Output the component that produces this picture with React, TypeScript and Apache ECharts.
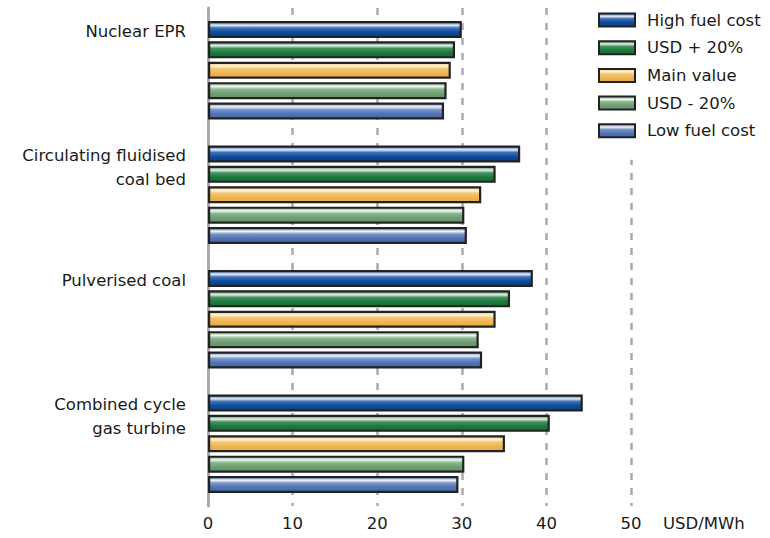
import React, { useEffect, useRef } from "react";
import * as echarts from "echarts";

const categories = [
  "Nuclear EPR",
  "Circulating fluidised\ncoal bed",
  "Pulverised coal",
  "Combined cycle\ngas turbine",
];
const seriesNames = ["High fuel cost", "USD + 20%", "Main value", "USD - 20%", "Low fuel cost"];
const highFuel = [30.0, 36.9, 38.4, 44.3];
const usdPlus20 = [29.2, 34.0, 35.7, 40.4];
const mainValue = [28.7, 32.3, 34.0, 35.1];
const usdMinus20 = [28.2, 30.3, 32.0, 30.3];
const lowFuel = [27.9, 30.6, 32.4, 29.6];
const xTicks = [0, 10, 20, 30, 40, 50];
const unitLabel = "USD/MWh";

const palettes = [
  ["#3d6fb6", "#e2ecf8", "#4071b8", "#0d4d9c", "#093f86"],
  ["#4e9262", "#e4f0e6", "#4a9061", "#1b7b3b", "#156931"],
  ["#f3c77a", "#fdf3dc", "#f4c673", "#eeb552", "#e8a944"],
  ["#8bb48e", "#eef5ee", "#8cb590", "#6e9f72", "#62936a"],
  ["#7692c6", "#eef2fa", "#7a96c9", "#5074b3", "#4367a8"],
];

function grad(p: string[]) {
  return new echarts.graphic.LinearGradient(0, 0, 0, 1, [
    { offset: 0, color: p[0] },
    { offset: 0.22, color: p[1] },
    { offset: 0.4, color: p[2] },
    { offset: 0.68, color: p[3] },
    { offset: 1, color: p[4] },
  ]);
}

const FONT = "DejaVu Sans";

export default function App() {
  const ref = useRef<HTMLDivElement>(null);
  useEffect(() => {
    if (!ref.current) return;
    const chart = echarts.init(ref.current, null, { renderer: "svg" });
    const data = [highFuel, usdPlus20, mainValue, usdMinus20, lowFuel];
    chart.setOption({
      animation: false,
      backgroundColor: "#fff",
      textStyle: { fontFamily: FONT },
      grid: { left: 208, right: 139, top: 8, bottom: 32 },
      legend: {
        orient: "vertical",
        left: 588,
        top: 1,
        padding: [10, 14, 20, 10],
        backgroundColor: "#fff",
        icon: "rect",
        itemWidth: 36,
        itemHeight: 13,
        itemGap: 9.7,
        textStyle: { fontSize: 16.5, color: "#1a1a1a", fontFamily: FONT, lineHeight: 18, padding: [0, 0, 0, 7] },
        data: seriesNames,
      },
      xAxis: {
        type: "value",
        min: 0,
        max: 50,
        interval: 10,
        axisLine: { show: false },
        axisTick: { show: false },
        axisLabel: {
          fontSize: 16.5,
          color: "#1a1a1a",
          fontFamily: FONT,
          margin: 9,
          formatter: (v: number) => (xTicks.includes(v) ? String(v) : ""),
        },
        splitLine: { show: true, lineStyle: { color: "#aaa", width: 2.5, type: [7, 8] } },
        name: unitLabel,
        nameLocation: "end",
        nameGap: 32,
        nameTextStyle: {
          fontSize: 16.5,
          color: "#1a1a1a",
          fontFamily: FONT,
          verticalAlign: "top",
          padding: [9, 0, 0, 0],
        },
      },
      yAxis: {
        type: "category",
        inverse: true,
        data: categories,
        axisLine: { show: true, lineStyle: { color: "#aaa", width: 3 } },
        axisTick: { show: false },
        axisLabel: {
          fontSize: 16.5,
          color: "#1a1a1a",
          fontFamily: FONT,
          margin: 22,
          align: "right",
          lineHeight: 24,
          rich: {
            a: { fontSize: 16.5, color: "#1a1a1a", fontFamily: FONT, lineHeight: 24 },
            b: { fontSize: 16.5, color: "#1a1a1a", fontFamily: FONT, lineHeight: 30 },
          },
          formatter: (v: string) => {
            const lines = v.split("\n").map((l) => `{a|${l}}`);
            while (lines.length < 3) lines.push("{a| }");
            lines.push("{b| }");
            return lines.join("\n");
          },
        },
      },
      series: seriesNames.map((name, i) => ({
        name,
        type: "bar",
        data: data[i],
        barWidth: 17,
        barGap: "20%",
        itemStyle: { color: grad(palettes[i]), borderColor: "#222", borderWidth: 2.2 },
      })),
    });
    return () => chart.dispose();
  }, []);
  return <div ref={ref} style={{ width: 770, height: 538, position: "absolute", left: 0, top: 0 }} />;
}
